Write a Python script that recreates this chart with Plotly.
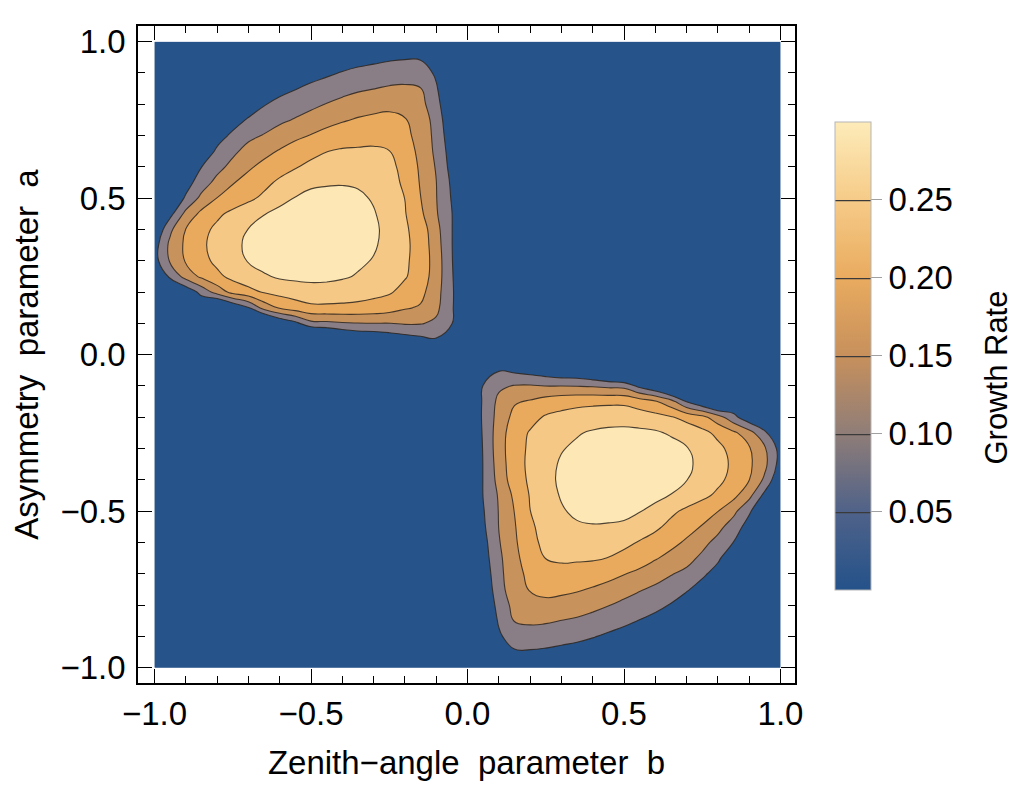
import numpy as np
import plotly.graph_objects as go

# ---------------- data ----------------
# grid coordinates (step 0.05)
b_grid = [round(-1 + 0.05 * i, 2) for i in range(41)]   # Zenith-angle parameter b
a_grid = [round(-1 + 0.05 * i, 2) for i in range(41)]   # Asymmetry parameter a

# Growth rate (b in [-1, 0], a in [0, 1]).
# rows: a = 1.00, 0.95, ..., 0.00 ; columns: b = -1.00, -0.95, ..., 0.00
lobe_rows = [
    [0, 0, 0, 0, 0, 0, 0, 0, 0, 0, 0, 0, 0, 0, 0.005, 0.012, 0.013, 0.012, 0, 0, 0],
    [0, 0, 0, 0, 0, 0, 0, 0, 0, 0, 0.005, 0.014, 0.022, 0.030, 0.036, 0.042, 0.045, 0.045, 0.030, 0.005, 0],
    [0, 0, 0, 0, 0, 0, 0, 0, 0.010, 0.020, 0.033, 0.042, 0.053, 0.062, 0.068, 0.074, 0.078, 0.072, 0.043, 0, 0],
    [0, 0, 0, 0, 0, 0, 0.002, 0.026, 0.036, 0.048, 0.060, 0.072, 0.083, 0.093, 0.099, 0.106, 0.108, 0.102, 0.055, 0, 0],
    [0, 0, 0, 0, 0, 0, 0.023, 0.047, 0.063, 0.075, 0.088, 0.102, 0.114, 0.124, 0.132, 0.138, 0.134, 0.116, 0.067, 0, 0],
    [0, 0, 0, 0, 0, 0.030, 0.055, 0.075, 0.090, 0.104, 0.119, 0.134, 0.145, 0.155, 0.161, 0.163, 0.153, 0.130, 0.080, 0.006, 0],
    [0, 0, 0, 0, 0.031, 0.059, 0.088, 0.103, 0.122, 0.140, 0.152, 0.166, 0.177, 0.182, 0.187, 0.182, 0.163, 0.132, 0.086, 0.015, 0],
    [0, 0, 0, 0.014, 0.058, 0.089, 0.117, 0.136, 0.154, 0.170, 0.184, 0.199, 0.205, 0.206, 0.206, 0.201, 0.173, 0.138, 0.089, 0.026, 0],
    [0, 0, 0.013, 0.049, 0.084, 0.115, 0.143, 0.163, 0.180, 0.196, 0.213, 0.222, 0.226, 0.224, 0.219, 0.212, 0.186, 0.142, 0.096, 0.032, 0],
    [0, 0, 0.029, 0.075, 0.115, 0.147, 0.167, 0.187, 0.209, 0.228, 0.239, 0.244, 0.246, 0.243, 0.233, 0.217, 0.192, 0.146, 0.101, 0.041, 0],
    [0, 0, 0.057, 0.113, 0.151, 0.170, 0.190, 0.210, 0.235, 0.252, 0.266, 0.268, 0.267, 0.260, 0.245, 0.222, 0.1995, 0.151, 0.102, 0.046, 0],
    [0, 0.034, 0.114, 0.163, 0.190, 0.212, 0.230, 0.248, 0.263, 0.277, 0.284, 0.285, 0.280, 0.270, 0.254, 0.229, 0.203, 0.160, 0.105, 0.051, 0],
    [0, 0.090, 0.151, 0.185, 0.211, 0.231, 0.251, 0.269, 0.281, 0.290, 0.294, 0.292, 0.285, 0.274, 0.260, 0.233, 0.207, 0.178, 0.116, 0.051, 0],
    [0.028, 0.112, 0.159, 0.192, 0.216, 0.237, 0.259, 0.275, 0.286, 0.293, 0.295, 0.292, 0.285, 0.273, 0.256, 0.233, 0.209, 0.182, 0.122, 0.051, 0],
    [0.030, 0.106, 0.155, 0.185, 0.211, 0.231, 0.253, 0.269, 0.277, 0.282, 0.284, 0.282, 0.275, 0.259, 0.247, 0.227, 0.207, 0.182, 0.127, 0.052, 0],
    [0, 0.058, 0.120, 0.160, 0.189, 0.213, 0.230, 0.244, 0.257, 0.261, 0.263, 0.262, 0.256, 0.246, 0.235, 0.219, 0.204, 0.178, 0.126, 0.054, 0],
    [0, 0, 0.011, 0.066, 0.121, 0.165, 0.185, 0.204, 0.216, 0.224, 0.230, 0.228, 0.224, 0.219, 0.213, 0.205, 0.185, 0.164, 0.119, 0.056, 0],
    [0, 0, 0, 0, -0.05, 0, 0.048, 0.120, 0.156, 0.176, 0.190, 0.191, 0.190, 0.188, 0.182, 0.172, 0.155, 0.145, 0.112, 0.055, 0],
    [0, 0, 0, 0, 0, 0, 0, -0.06, 0, 0.036, 0.085, 0.088, 0.095, 0.098, 0.0995, 0.099, 0.105, 0.103, 0.091, 0.051, 0],
    [0, 0, 0, 0, 0, 0, 0, 0, 0, 0, -0.08, -0.05, -0.02, 0, 0.004, 0.017, 0.028, 0.039, 0.047, 0.035, 0],
    [0] * 21,
]

contour_levels = [0.05, 0.10, 0.15, 0.20, 0.25]
colorbar_ticktext = ["0.05", "0.10", "0.15", "0.20", "0.25"]

# ---------------- build grid (second lobe is the point mirror b,a -> -b,-a) ----------------
n = len(b_grid)
Z = np.zeros((n, n))
for r, row in enumerate(lobe_rows):
    ia = n - 1 - r
    for c, v in enumerate(row):
        Z[ia][c] += v
        Z[n - 1 - ia][n - 1 - c] += v

band_colors = [
    [0.0, "#25538a"],
    [0.2, "#8a7e86"],
    [0.4, "#c8925c"],
    [0.6, "#e9aa5e"],
    [0.8, "#f5c886"],
    [1.0, "#fde8b5"],
]
gradient = [
    [0.0, "#24528a"],
    [0.1667, "#4f6289"],
    [0.3333, "#8f7d78"],
    [0.5, "#c7905c"],
    [0.6667, "#e9ab5f"],
    [0.8333, "#f6cb88"],
    [1.0, "#fdebb9"],
]

FONT = "Liberation Sans, Arial, sans-serif"
step = contour_levels[1] - contour_levels[0]

fig = go.Figure()

# colour-bar carrier (continuous gradient with contour lines), hidden under the filled plot
fig.add_trace(go.Contour(
    x=b_grid, y=a_grid, z=Z,
    zmin=0, zmax=0.30,
    colorscale=gradient,
    contours=dict(start=contour_levels[0], end=contour_levels[-1], size=step,
                  coloring="heatmap", showlines=True),
    line=dict(color="#3a3a3a", width=1.3),
    hoverinfo="skip",
    colorbar=dict(
        x=1.061, xanchor="left", xpad=0,
        y=0.498, yanchor="middle", ypad=0,
        len=0.712, lenmode="fraction",
        thickness=36, thicknessmode="pixels",
        outlinewidth=1, outlinecolor="#b5b5b5",
        tickvals=contour_levels, ticktext=colorbar_ticktext,
        ticks="outside", ticklen=11, tickwidth=1, tickcolor="#a0a0a0",
        tickfont=dict(family=FONT, size=33, color="black"),
    ),
))

# the filled contour plot itself
fig.add_trace(go.Contour(
    x=b_grid, y=a_grid, z=Z,
    colorscale=band_colors,
    contours=dict(start=contour_levels[0], end=contour_levels[-1], size=step,
                  coloring="fill", showlines=True),
    line=dict(color="rgba(45,38,30,0.85)", width=1.1, smoothing=1.3),
    showscale=False,
    hoverinfo="skip",
))

axis_common = dict(
    showline=True, linecolor="black", linewidth=1.5, mirror="ticks",
    ticks="inside", ticklen=14, tickwidth=1.3, tickcolor="black",
    tick0=0, dtick=0.5, tickformat=".1f",
    tickfont=dict(family=FONT, size=33, color="black"),
    minor=dict(dtick=0.1, ticks="inside", ticklen=7, tickwidth=1, tickcolor="black"),
    showgrid=False, zeroline=False,
)

fig.update_layout(
    width=1024, height=789,
    margin=dict(l=138, r=229, t=26, b=106),
    paper_bgcolor="white", plot_bgcolor="white",
    xaxis=dict(range=[-1.0527, 1.0463],
               title=dict(text="Zenith\u2212angle\u00a0\u00a0parameter\u00a0\u00a0b",
                          font=dict(family=FONT, size=33, color="black"), standoff=20),
               ticklabelstandoff=1, **axis_common),
    yaxis=dict(range=[-1.049, 1.050],
               title=dict(text="Asymmetry\u00a0\u00a0parameter\u00a0\u00a0a",
                          font=dict(family=FONT, size=33, color="black"), standoff=12),
               ticklabelstandoff=4, **axis_common),
    annotations=[dict(
        text="Growth Rate", textangle=-90,
        xref="paper", yref="paper", x=1.306, y=0.465,
        xanchor="center", yanchor="middle", showarrow=False,
        font=dict(family=FONT, size=31, color="black"),
    )],
    showlegend=False,
)

fig.write_html("out.html")
